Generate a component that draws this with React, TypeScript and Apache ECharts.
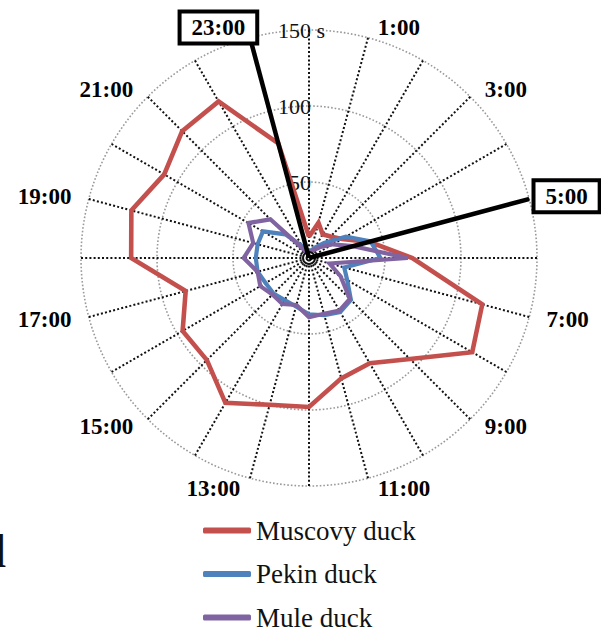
import { useEffect, useRef } from 'react';
import * as echarts from 'echarts';

// Hour of day for each spoke (0:00 at the top, clockwise)
const hours = [0, 1, 2, 3, 4, 5, 6, 7, 8, 9, 10, 11, 12, 13, 14, 15, 16, 17, 18, 19, 20, 21, 22, 23];

// Time spent (s) per hour
const muscovy = [14, 24, 18, 20, 25, 41, 68, 118, 124, 94, 80, 82, 98, 100, 110, 95, 96, 84, 117, 121, 110, 118, 119, 78];
const pekin = [4, 5, 8, 14, 28, 42, 47, 24, 29, 39, 41, 39, 37, 33, 32, 33, 33, 35, 35, 35, 35, 22, 9, 5];
const mule = [3, 4, 6, 10, 18, 30, 65, 14, 24, 38, 40, 38, 39, 32, 35, 34, 37, 35, 43, 38, 46, 36, 6, 3];

const seriesNames = ['Muscovy duck', 'Pekin duck', 'Mule duck'];
const seriesColors = ['#C4504D', '#4F81BD', '#8064A2'];

// Hour labels drawn round the dial
const labelHours = [1, 3, 5, 7, 9, 11, 13, 15, 17, 19, 21, 23];
const hourLabels = ['1:00', '3:00', '5:00', '7:00', '9:00', '11:00', '13:00', '15:00', '17:00', '19:00', '21:00', '23:00'];
// Hours picked out with a pointer and a boxed label
const highlightedHours = [5, 23];

// Radial rings and their labels
const ringValues = [50, 100, 150];
const ringLabels = ['50', '100', '150 s'];

const FONT = '"Liberation Serif", "Times New Roman", serif';
const LABEL_RADIUS = 157;
const POINTER_END: Record<number, number> = { 5: 153.5, 23: 146.5 };
const LEGEND_TOP = 517;
const LEGEND_STEP = 43.5;

export default function App() {
  const ref = useRef<HTMLDivElement>(null);

  useEffect(() => {
    const chart = echarts.init(ref.current!, null, { renderer: 'svg' });

    const closedLoop = (vals: number[]) => [
      ...hours.map((h, i) => [vals[i], h]),
      [vals[0], 24],
    ];

    const dataSeries = [muscovy, pekin, mule].map((vals, i) => ({
      name: seriesNames[i],
      type: 'line',
      coordinateSystem: 'polar',
      data: closedLoop(vals),
      showSymbol: false,
      symbol: 'none',
      silent: true,
      z: 3,
      lineStyle: { color: seriesColors[i], width: i === 0 ? 4.6 : 4.2, join: 'miter' },
      itemStyle: { color: seriesColors[i] },
    }));

    const pointerSeries = highlightedHours.map((h) => ({
      type: 'line',
      coordinateSystem: 'polar',
      data: [[0, h], [POINTER_END[h], h]],
      symbol: 'none',
      silent: true,
      clip: false,
      z: 5,
      lineStyle: { color: '#000', width: 4.5 },
    }));

    const hourLabelSeries = {
      type: 'scatter',
      coordinateSystem: 'polar',
      symbolSize: 0,
      silent: true,
      clip: false,
      z: 6,
      itemStyle: { opacity: 1 },
      data: labelHours.map((h, i) => {
        const rightSide = h < 12;
        const boxed = highlightedHours.includes(h);
        const dx = rightSide ? (boxed ? -4 : 7) : boxed ? 8 : -7;
        return {
          value: [LABEL_RADIUS, h],
          label: {
            formatter: hourLabels[i],
            align: rightSide ? 'left' : 'right',
            offset: [dx, 0],
            ...(boxed
              ? {
                  borderColor: '#000',
                  borderWidth: 4,
                  backgroundColor: '#fff',
                  padding: [3, 10, 2, 10],
                }
              : {}),
          },
        };
      }),
      label: {
        show: true,
        position: 'inside',
        verticalAlign: 'middle',
        fontFamily: FONT,
        fontWeight: 'bold',
        fontSize: 23,
        color: '#000',
        opacity: 1,
        textBorderWidth: 0,
      },
    };

    const ringLabelSeries = {
      type: 'scatter',
      coordinateSystem: 'polar',
      symbolSize: 0,
      silent: true,
      clip: false,
      z: 2,
      itemStyle: { opacity: 1 },
      data: ringValues.map((v, i) => ({
        value: [v, 0],
        label: {
          formatter: ringLabels[i],
          offset: [ringLabels[i].endsWith(' s') ? 16 : 2, 0],
        },
      })),
      label: {
        show: true,
        position: 'inside',
        align: 'right',
        verticalAlign: 'middle',
        fontFamily: FONT,
        fontSize: 22,
        color: '#111',
        opacity: 1,
        textBorderWidth: 0,
      },
    };

    const hubSeries = {
      type: 'scatter',
      coordinateSystem: 'polar',
      silent: true,
      z: 4,
      symbol: 'emptyCircle',
      data: [
        { value: [0, 0], symbolSize: 12 },
        { value: [0, 0], symbolSize: 5 },
      ],
      itemStyle: { color: '#111', borderColor: '#111', borderWidth: 1.6, opacity: 1 },
    };

    // One legend block per series, stacked below the dial
    const legends = seriesNames.map((name, i) => ({
      data: [name],
      orient: 'vertical',
      left: 203,
      top: LEGEND_TOP + i * LEGEND_STEP,
      padding: 0,
      itemWidth: 48,
      itemHeight: 6,
      icon: 'roundRect',
      textStyle: { fontFamily: FONT, fontSize: 27, color: '#111' },
    }));

    chart.setOption({
      animation: false,
      backgroundColor: '#fff',
      polar: { center: [309, 258], radius: 228 },
      angleAxis: {
        type: 'value',
        min: 0,
        max: 24,
        interval: 1,
        startAngle: 90,
        clockwise: true,
        axisLine: { show: false },
        axisTick: { show: false },
        axisLabel: { show: false },
        splitLine: { show: true, lineStyle: { color: '#111', width: 2, type: [2, 2.2] } },
      },
      radiusAxis: {
        type: 'value',
        min: 0,
        max: 150,
        interval: 50,
        axisLine: { show: false },
        axisTick: { show: false },
        axisLabel: { show: false },
        splitLine: { show: true, lineStyle: { color: '#999', width: 1.6, type: [1.6, 2] } },
      },
      legend: legends,
      graphic: [
        {
          type: 'text',
          x: -17,
          y: 528,
          style: { text: 'd', font: `46px ${FONT}`, fill: '#111' },
        },
      ],
      series: [ringLabelSeries, ...dataSeries, hubSeries, ...pointerSeries, hourLabelSeries],
    });

    return () => chart.dispose();
  }, []);

  return (
    <div
      ref={ref}
      style={{ position: 'fixed', left: 0, top: 0, width: 601, height: 631, background: '#fff' }}
    />
  );
}
